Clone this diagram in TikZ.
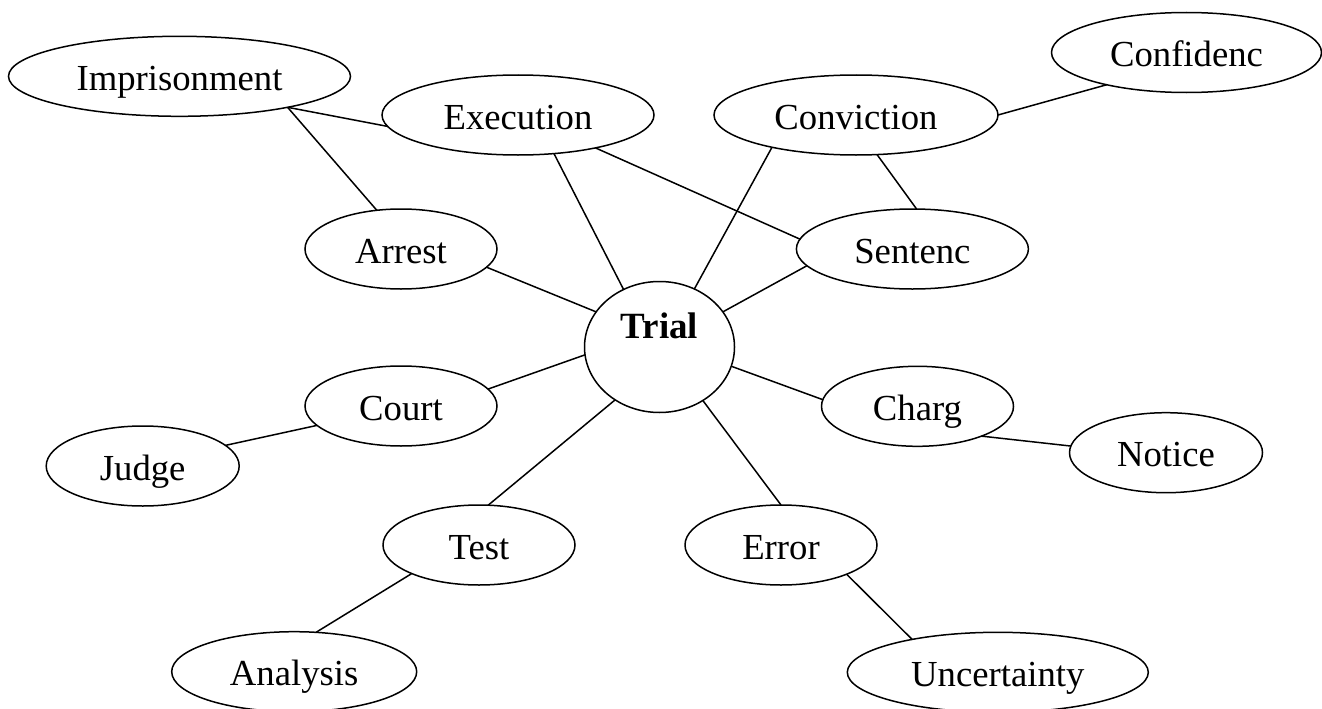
\documentclass[tikz,border=0pt]{standalone}
\usepackage{fontspec}
\setmainfont{Liberation Serif}
\usetikzlibrary{shapes.geometric}
\begin{document}
\begin{tikzpicture}[x=1pt,y=-1pt,
  ell/.style={ellipse,draw,line width=1.5pt,inner sep=0pt,outer sep=0pt,
    minimum width=192pt,minimum height=80pt,text height=28pt,text depth=0pt,
    font=\fontsize{36.7}{44}\selectfont},
  hub/.style={ell,minimum width=150pt,minimum height=131pt,text height=26pt,
    text depth=43.4pt,font=\fontsize{37}{44}\selectfont\bfseries},
  link/.style={draw,line width=1.5pt}]
\useasboundingbox (0,0) rectangle (1322,709);
\node[hub] (trial) at (659.5,347) {Trial};
\node[ell,minimum width=342pt] (imprisonment) at (179.5,76.3) {Imprisonment};
\node[ell,minimum width=272pt] (execution) at (518,115) {Execution};
\node[ell,minimum width=284pt] (conviction) at (856,115) {Conviction};
\node[ell,minimum width=270pt] (confidenc) at (1186.5,52.5) {Confidenc};
\node[ell] (arrest) at (401,249) {Arrest};
\node[ell,minimum width=232pt] (sentenc) at (912.4,249) {Sentenc};
\node[ell] (court) at (401,406) {Court};
\node[ell,minimum width=193pt] (judge) at (142.7,466) {Judge};
\node[ell] (charg) at (917.5,406.3) {Charg};
\node[ell,minimum width=193pt] (notice) at (1166,452.7) {Notice};
\node[ell] (test) at (479,545) {Test};
\node[ell] (error) at (781,545) {Error};
\node[ell,minimum width=245pt] (analysis) at (294.2,671.7) {Analysis};
\node[ell,minimum width=301pt] (uncertainty) at (997.8,672.3) {Uncertainty};

\draw[link] (imprisonment.344) -- (execution.185);
\draw[link] (imprisonment.344) -- (arrest.122);
\draw[link] (execution.313) -- (trial.122);
\draw[link] (execution.337) -- (sentenc.175);
\draw[link] (conviction.201) -- (trial.59);
\draw[link] (conviction.298) -- (sentenc.84);
\draw[link] (conviction.0) -- (confidenc.202);
\draw[link] (arrest.348) -- (trial.151);
\draw[link] (sentenc.189) -- (trial.29);
\draw[link] (court.11) -- (trial.186);
\draw[link] (court.193) -- (judge.14);
\draw[link] (charg.176) -- (trial.345);
\draw[link] (charg.335) -- (notice.176);
\draw[link] (test.77) -- (trial.230);
\draw[link] (test.203) -- (analysis.61);
\draw[link] (error.90) -- (trial.309);
\draw[link] (error.336) -- (uncertainty.159);
\end{tikzpicture}
\end{document}
